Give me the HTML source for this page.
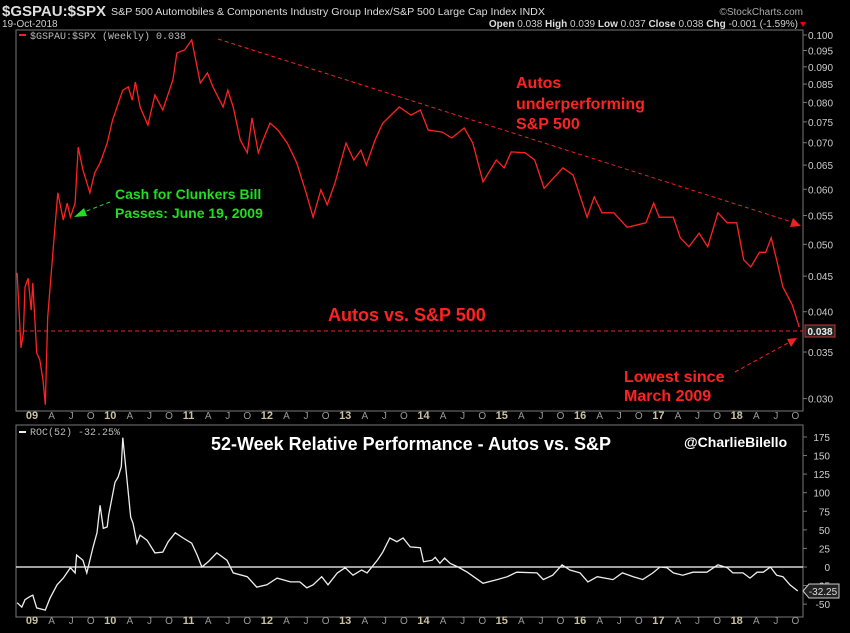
<!DOCTYPE html>
<html><head><meta charset="utf-8">
<style>
body{margin:0;background:#000;width:850px;height:633px;overflow:hidden;font-family:"Liberation Sans",sans-serif}
svg{display:block}
</style></head>
<body>
<svg id="c" width="850" height="633" xmlns="http://www.w3.org/2000/svg">
<rect x="0" y="0" width="850" height="633" fill="#000"/>
<g>
<text x="2" y="16" fill="#ddd" font-size="15" font-weight="bold" textLength="104" lengthAdjust="spacingAndGlyphs">$GSPAU:$SPX</text>
<text x="111" y="15" fill="#ddd" font-size="10.5" textLength="434" lengthAdjust="spacingAndGlyphs">S&amp;P 500 Automobiles &amp; Components Industry Group Index/S&amp;P 500 Large Cap Index  INDX</text>
<text x="2" y="27" fill="#ccc" font-size="10">19-Oct-2018</text>
<text x="803" y="15" fill="#aaa" font-size="10" text-anchor="end">©StockCharts.com</text>
<text x="798" y="27" fill="#ccc" font-size="10" text-anchor="end"><tspan font-weight="bold" fill="#ddd">Open</tspan> 0.038 <tspan font-weight="bold" fill="#ddd">High</tspan> 0.039 <tspan font-weight="bold" fill="#ddd">Low</tspan> 0.037 <tspan font-weight="bold" fill="#ddd">Close</tspan> 0.038 <tspan font-weight="bold" fill="#ddd">Chg</tspan> -0.001 (-1.59%)</text>
<path d="M800,22 l6,0 l-3,5z" fill="#e00"/>
</g>
<rect x="16" y="30" width="787" height="381" fill="none" stroke="#777"/>
<rect x="16" y="425" width="787" height="192" fill="none" stroke="#777"/>
<g id="topAxis"></g>
<g id="botAxis"></g>
<g id="xAxes"></g>
<line x1="16" y1="331" x2="803" y2="331" stroke="#e22" stroke-width="1" stroke-dasharray="4,3"/>
<line x1="218" y1="39" x2="792" y2="222" stroke="#e22" stroke-width="1" stroke-dasharray="4,3"/>
<path d="M801,226 l-11,1 l3,-9z" fill="#e22"/>
<line x1="735" y1="372" x2="788" y2="343" stroke="#e22" stroke-dasharray="4,3"/>
<path d="M797,338 l-10,1 l4,8z" fill="#e22"/>
<line x1="110" y1="202" x2="84" y2="212" stroke="#2d2" stroke-dasharray="4,3"/>
<path d="M74,217 l10,-9 l3,8z" fill="#2d2"/>
<path id="priceLine" fill="none" stroke="#f22" stroke-width="1.3"/>
<line x1="16" y1="567" x2="803" y2="567" stroke="#fff" stroke-width="1.3"/>
<path id="rocLine" fill="none" stroke="#eee" stroke-width="1.3"/>
<rect x="19" y="34" width="7" height="2" fill="#e22"/>
<text x="30" y="39" fill="#bbb" font-size="10" font-family="Liberation Mono, monospace">$GSPAU:$SPX (Weekly) 0.038</text>
<rect x="19" y="431" width="7" height="2" fill="#eee"/>
<text x="30" y="435" fill="#bbb" font-size="10" font-family="Liberation Mono, monospace">ROC(52) -32.25%</text>
<g font-weight="bold" fill="#f22" font-size="16">
<text x="516" y="88">Autos<tspan x="516" y="109">underperforming</tspan><tspan x="516" y="129">S&amp;P 500</tspan></text>
<text x="328" y="321" font-size="18">Autos vs. S&amp;P 500</text>
<text x="624" y="382">Lowest since<tspan x="624" y="401">March 2009</tspan></text>
<text x="115" y="199" fill="#2d2" font-size="14">Cash for Clunkers Bill<tspan x="115" y="218">Passes: June 19, 2009</tspan></text>
</g>
<text x="211" y="450" fill="#fff" font-size="18" font-weight="bold" textLength="400" lengthAdjust="spacingAndGlyphs">52-Week Relative Performance - Autos vs. S&amp;P</text>
<text x="684" y="447" fill="#fff" font-size="14" font-weight="bold">@CharlieBilello</text>
<rect x="805" y="325" width="30" height="12" fill="#222" stroke="#c33"/>
<text x="820" y="335" fill="#eee" font-size="10" font-weight="bold" text-anchor="middle">0.038</text>
<path d="M803,591 l6,-7 h30 v14 h-30z" fill="#222" stroke="#ccc"/>
<text x="823" y="595" fill="#ddd" font-size="10" text-anchor="middle">-32.25</text>
</svg>
<script>
const priceYears=[2008.81,2008.86,2008.89,2008.91,2008.95,2008.99,2009.01,2009.06,2009.10,2009.14,2009.17,2009.20,2009.27,2009.33,2009.40,2009.45,2009.49,2009.55,2009.59,2009.65,2009.74,2009.80,2009.84,2009.87,2009.96,2010.03,2010.16,2010.23,2010.28,2010.32,2010.38,2010.48,2010.57,2010.67,2010.80,2010.85,2010.95,2011.02,2011.04,2011.15,2011.24,2011.31,2011.44,2011.50,2011.57,2011.66,2011.75,2011.81,2011.89,2011.95,2012.04,2012.14,2012.26,2012.38,2012.50,2012.59,2012.69,2012.77,2012.87,2013.01,2013.11,2013.20,2013.27,2013.38,2013.48,2013.69,2013.84,2013.96,2014.06,2014.24,2014.36,2014.52,2014.63,2014.76,2014.93,2015.03,2015.12,2015.30,2015.42,2015.54,2015.78,2015.91,2016.09,2016.18,2016.28,2016.43,2016.60,2016.84,2016.94,2017.01,2017.19,2017.28,2017.39,2017.52,2017.63,2017.76,2017.88,2018.00,2018.09,2018.18,2018.29,2018.37,2018.44,2018.51,2018.59,2018.71,2018.80];
const priceValues=[0.0455,0.0355,0.0373,0.0434,0.0447,0.0402,0.0440,0.0349,0.0341,0.0319,0.0294,0.0393,0.0491,0.0593,0.0542,0.0573,0.0547,0.0573,0.0690,0.0640,0.0593,0.0633,0.0646,0.0655,0.0699,0.0755,0.0833,0.0842,0.0806,0.0856,0.0788,0.0742,0.0820,0.0780,0.0862,0.0942,0.0952,0.0977,0.0984,0.0853,0.0882,0.0842,0.0788,0.0833,0.0788,0.0706,0.0677,0.0760,0.0677,0.0706,0.0747,0.0730,0.0699,0.0655,0.0593,0.0547,0.0599,0.0570,0.0613,0.0699,0.0661,0.0683,0.0650,0.0706,0.0747,0.0788,0.0767,0.0780,0.0730,0.0725,0.0711,0.0735,0.0699,0.0615,0.0661,0.0644,0.0679,0.0677,0.0661,0.0602,0.0644,0.0629,0.0547,0.0585,0.0555,0.0555,0.0529,0.0537,0.0573,0.0547,0.0547,0.0511,0.0496,0.0519,0.0496,0.0555,0.0537,0.0537,0.0475,0.0464,0.0487,0.0487,0.0511,0.0475,0.0434,0.0409,0.0380];
const rocYears=[2008.81,2008.87,2008.91,2008.97,2009.01,2009.06,2009.17,2009.23,2009.32,2009.40,2009.49,2009.55,2009.57,2009.65,2009.70,2009.78,2009.83,2009.87,2009.91,2009.96,2009.98,2010.06,2010.10,2010.14,2010.16,2010.20,2010.26,2010.29,2010.34,2010.38,2010.47,2010.57,2010.67,2010.74,2010.83,2010.93,2011.04,2011.11,2011.17,2011.25,2011.36,2011.49,2011.57,2011.75,2011.87,2012.00,2012.13,2012.30,2012.42,2012.51,2012.59,2012.70,2012.78,2012.90,2013.00,2013.10,2013.21,2013.28,2013.41,2013.48,2013.57,2013.66,2013.74,2013.83,2013.96,2014.00,2014.11,2014.15,2014.21,2014.27,2014.34,2014.44,2014.56,2014.76,2014.94,2015.07,2015.19,2015.45,2015.53,2015.65,2015.77,2015.87,2016.00,2016.10,2016.22,2016.42,2016.54,2016.68,2016.80,2016.93,2017.02,2017.11,2017.19,2017.31,2017.44,2017.62,2017.76,2017.88,2017.95,2018.08,2018.17,2018.26,2018.34,2018.43,2018.51,2018.59,2018.68,2018.78];
const rocValues=[-48,-54,-44,-40,-38,-55,-58,-42,-24,-15,-1,-8,16,9,-8,27,46,83,52,54,70,114,121,135,174,131,67,59,32,43,36,19,20,34,46,39,32,16,0,7,19,9,-8,-13,-27,-24,-15,-20,-20,-28,-24,-13,-24,-8,-1,-11,-4,-8,9,20,39,34,39,27,26,7,9,13,5,12,5,0,-7,-22,-17,-13,-7,-8,-17,-11,3,-4,-8,-20,-13,-17,-8,-13,-17,-8,0,-1,-8,-11,-7,-7,3,-1,-8,-8,-15,-7,-7,0,-11,-13,-24,-32.25];
const priceTicks=[0.030,0.035,0.040,0.045,0.050,0.055,0.060,0.065,0.070,0.075,0.080,0.085,0.090,0.095,0.100];
const rocTicks=[-50,-25,0,25,50,75,100,125,150,175];
const yearLabels=["09","10","11","12","13","14","15","16","17","18"];
const monthLabels=["A","J","O"];

const NS="http://www.w3.org/2000/svg";
const xS=y=>32+(y-2009)*78.3;
const yP=v=>35-302*Math.log(v/0.1);
const yR=v=>567-0.743*v;
function mk(tag,attrs,parent,txt){const e=document.createElementNS(NS,tag);for(const k in attrs)e.setAttribute(k,attrs[k]);if(txt!==undefined)e.textContent=txt;parent.appendChild(e);return e;}
document.getElementById('priceLine').setAttribute('d',priceYears.map((y,i)=>(i?'L':'M')+xS(y).toFixed(1)+','+yP(priceValues[i]).toFixed(1)).join(''));
document.getElementById('rocLine').setAttribute('d',rocYears.map((y,i)=>(i?'L':'M')+xS(y).toFixed(1)+','+yR(rocValues[i]).toFixed(1)).join(''));
const ta=document.getElementById('topAxis');
priceTicks.forEach(v=>{const y=yP(v);
 const t=mk('line',{x1:803,y1:y,x2:807,y2:y,stroke:'#777'},ta);
 
 
 const l=mk('text',{x:808,y:y+4,fill:'#ccc','font-size':10},ta,v.toFixed(3));
 
 });
const ba=document.getElementById('botAxis');
rocTicks.forEach(v=>{const y=yR(v);
 const t=mk('line',{x1:803,y1:y,x2:807,y2:y,stroke:'#777'},ba);
 
 
 const l=mk('text',{x:830,y:y+4,fill:'#ccc','font-size':10,'text-anchor':'end'},ba,String(v));
 
 });
const xa=document.getElementById('xAxes');
[419,624].forEach(base=>{
 yearLabels.forEach((lab,i)=>{const yr=2009+i;
  const l=mk('text',{x:xS(yr),y:base,fill:'#c8c0a0','font-size':11,'font-weight':'bold','text-anchor':'middle'},xa,lab);
  
  
  monthLabels.forEach((m,j)=>{const mx=xS(yr+0.25*(j+1));
   const ml=mk('text',{x:mx,y:base,fill:'#999','font-size':10,'text-anchor':'middle'},xa,m);
   
   });
 });
});
</script>
</body></html>
